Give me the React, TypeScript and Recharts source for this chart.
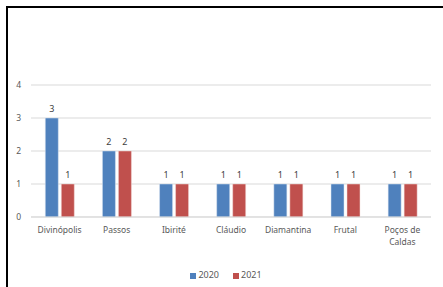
import React from 'react';
import { BarChart, Bar, XAxis, YAxis, CartesianGrid, Legend, LabelList } from 'recharts';

const cities = ['Divinópolis', 'Passos', 'Ibirité', 'Cláudio', 'Diamantina', 'Frutal', 'Poços de Caldas'];
const values2020 = [3, 2, 1, 1, 1, 1, 1];
const values2021 = [1, 2, 1, 1, 1, 1, 1];
const yTicks = [0, 1, 2, 3, 4];

const data = cities.map((city, i) => ({
  city,
  y2020: values2020[i],
  y2021: values2021[i],
}));

const FONT = '"Noto Sans", "Liberation Sans", sans-serif';

const CityTick = (props: any) => {
  const { x, y, payload } = props;
  const words: string[] = payload.value.split(' ');
  // wrap long names onto two lines like the original
  const lines = payload.value.length > 12 ? [words.slice(0, -1).join(' '), words[words.length - 1]] : [payload.value];
  return (
    <text x={x} y={y} textAnchor="middle" fill="#595959" fontSize={8.5} fontFamily={FONT}>
      {lines.map((l, i) => (
        <tspan key={i} x={x} dy={i === 0 ? '0.9em' : '1.4em'}>
          {l}
        </tspan>
      ))}
    </text>
  );
};

const App: React.FC = () => {
  return (
    <div style={{ position: 'absolute', left: 0, top: 0, width: 443, height: 287, background: '#fff' }}>
      <div
        style={{
          position: 'absolute',
          left: 6,
          top: 6,
          width: 445,
          height: 290,
          borderLeft: '2px solid #000',
          borderTop: '2px solid #000',
        }}
      />
      <BarChart
        width={443}
        height={287}
        data={data}
        margin={{ top: 85, right: 12, left: 0, bottom: 0 }}
        barCategoryGap="25%"
        barGap={3}
        style={{ position: 'absolute', left: 0, top: 0, fontFamily: FONT }}
      >
        <CartesianGrid vertical={false} stroke="#d9d9d9" />
        <XAxis
          dataKey="city"
          height={32}
          tickLine={false}
          axisLine={{ stroke: '#d9d9d9' }}
          interval={0}
          tick={<CityTick />}
        />
        <YAxis
          width={31}
          domain={[0, 4]}
          ticks={yTicks}
          tickLine={false}
          axisLine={false}
          tickMargin={4}
          tick={{ fontSize: 8.5, fill: '#595959', fontFamily: FONT }}
        />
        <Legend
          verticalAlign="bottom"
          height={38}
          iconType="square"
          iconSize={6}
          wrapperStyle={{ top: 268, left: 178, width: 110, fontSize: 9, fontFamily: FONT, color: '#595959' }}
          formatter={(value) => <span style={{ color: '#595959', marginLeft: -2, marginRight: 4 }}>{value}</span>}
        />
        <Bar dataKey="y2020" name="2020" fill="#4f81bd" stroke="#dbe5f1" strokeWidth={0.5} isAnimationActive={false}>
          <LabelList dataKey="y2020" position="top" offset={6} fill="#404040" fontSize={9} fontFamily={FONT} />
        </Bar>
        <Bar dataKey="y2021" name="2021" fill="#c0504d" stroke="#f2dcdb" strokeWidth={0.5} isAnimationActive={false}>
          <LabelList dataKey="y2021" position="top" offset={6} fill="#404040" fontSize={9} fontFamily={FONT} />
        </Bar>
      </BarChart>
    </div>
  );
};

export default App;
